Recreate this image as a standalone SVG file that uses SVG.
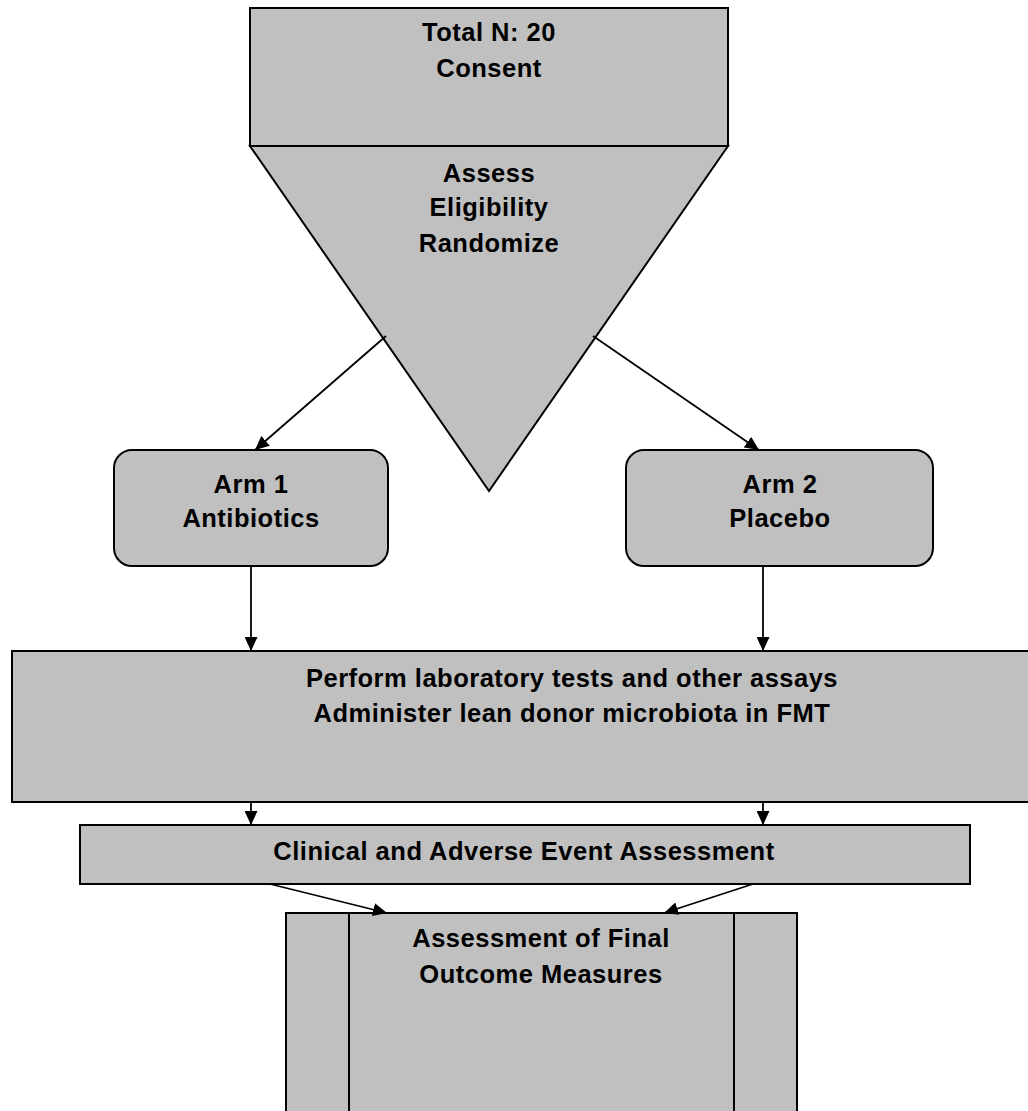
<svg xmlns="http://www.w3.org/2000/svg" width="1028" height="1111" viewBox="0 0 1028 1111">
<defs>
<style>
.shape{fill:#c0c0c0;stroke:#000;stroke-width:2}
.line{fill:none;stroke:#000;stroke-width:1.8}
.t{font-family:"Liberation Sans",Arial,sans-serif;font-weight:bold;font-size:25.5px;letter-spacing:0.5px;fill:#000;text-anchor:middle}
</style>
<marker id="arr" markerUnits="userSpaceOnUse" markerWidth="15" markerHeight="13" refX="14" refY="6.5" orient="auto">
<path d="M0,0 L14,6.5 L0,13 Z" fill="#000"/>
</marker>
</defs>
<rect width="1028" height="1111" fill="#fff"/>
<g id="consent">
<rect class="shape" x="250" y="8" width="478" height="138"/>
<text class="t" x="489" y="41">Total N: 20</text>
<text class="t" x="489" y="77">Consent</text>
</g>
<g id="randomize">
<polygon class="shape" points="250,146 728,146 489,491"/>
<text class="t" x="489" y="182">Assess</text>
<text class="t" x="489" y="216">Eligibility</text>
<text class="t" x="489" y="252">Randomize</text>
</g>
<g id="arm1">
<rect class="shape" x="114" y="450" width="274" height="116" rx="18"/>
<text class="t" x="251" y="493">Arm 1</text>
<text class="t" x="251" y="527">Antibiotics</text>
</g>
<g id="arm2">
<rect class="shape" x="626" y="450" width="307" height="116" rx="18"/>
<text class="t" x="780" y="493">Arm 2</text>
<text class="t" x="780" y="527">Placebo</text>
</g>
<g id="procedures">
<rect class="shape" x="12" y="651" width="1030" height="151"/>
<text class="t" x="572" y="687">Perform laboratory tests and other assays</text>
<text class="t" x="572" y="722">Administer lean donor microbiota in FMT</text>
</g>
<g id="clinical">
<rect class="shape" x="80" y="825" width="890" height="59"/>
<text class="t" x="524" y="860">Clinical and Adverse Event Assessment</text>
</g>
<g id="final">
<rect class="shape" x="286" y="913" width="511" height="210"/>
<line class="line" x1="349" y1="913" x2="349" y2="1111" style="stroke-width:2"/>
<line class="line" x1="734" y1="913" x2="734" y2="1111" style="stroke-width:2"/>
<text class="t" x="541" y="947">Assessment of Final</text>
<text class="t" x="541" y="983">Outcome Measures</text>
</g>
<g id="connectors">
<line class="line" x1="386" y1="336" x2="255" y2="450" marker-end="url(#arr)"/>
<line class="line" x1="593" y1="336" x2="759" y2="450" marker-end="url(#arr)"/>
<line class="line" x1="251" y1="566" x2="251" y2="651" marker-end="url(#arr)"/>
<line class="line" x1="763" y1="566" x2="763" y2="651" marker-end="url(#arr)"/>
<line class="line" x1="251" y1="802" x2="251" y2="825" marker-end="url(#arr)"/>
<line class="line" x1="763" y1="802" x2="763" y2="825" marker-end="url(#arr)"/>
<line class="line" x1="270" y1="884" x2="387" y2="913" marker-end="url(#arr)"/>
<line class="line" x1="753" y1="884" x2="664" y2="913" marker-end="url(#arr)"/>
</g>
</svg>
